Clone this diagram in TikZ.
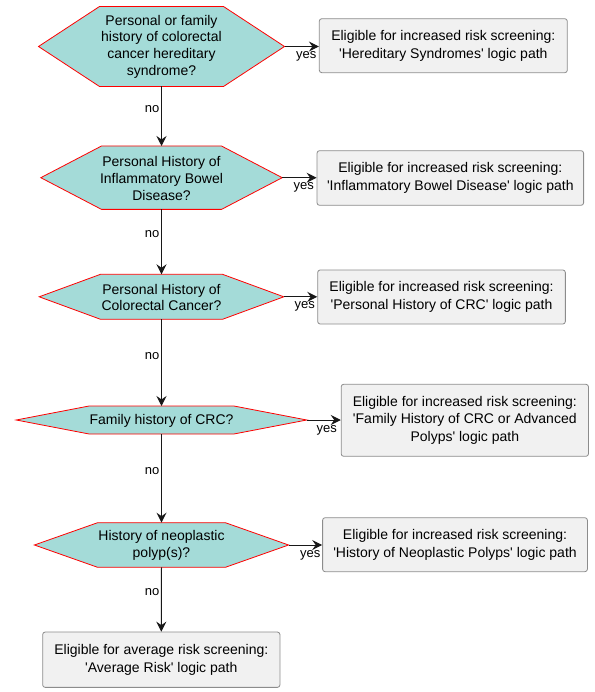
\documentclass[tikz,border=0pt]{standalone}
\usepackage{fontspec}
\setmainfont{Liberation Sans}[Ligatures=TeXOff]
\usetikzlibrary{arrows.meta}
\definecolor{hexfill}{RGB}{164,219,216}
\definecolor{boxfill}{RGB}{241,241,241}
\definecolor{boxline}{RGB}{140,140,140}
\definecolor{lineclr}{RGB}{24,24,24}
\newcommand\mkhex[6]{% name, cx, cy, W, w, h
  \path[hexpath] ({#2-#4},#3) -- ({#2-#5},{#3-#6}) -- ({#2+#5},{#3-#6}) -- ({#2+#4},#3)
    -- ({#2+#5},{#3+#6}) -- ({#2-#5},{#3+#6}) -- cycle;
  \coordinate (#1e) at ({#2+#4},#3);
  \coordinate (#1n) at (#2,{#3-#6});
  \coordinate (#1s) at (#2,{#3+#6});
}
\begin{document}
\begin{tikzpicture}[x=1pt,y=-1pt,
  hexpath/.style={fill=hexfill,draw=red,line width=0.8pt},
  hextext/.style={align=center,font=\fontsize{14}{16.9}\selectfont,inner sep=0pt},
  outbox/.style={draw=boxline,fill=boxfill,rounded corners=2.5pt,line width=0.8pt,
    align=center,font=\fontsize{14}{17.6}\selectfont,inner sep=0pt},
  conn/.style={draw=lineclr,line width=1pt,-{Stealth[length=10pt,width=10pt,inset=3.5pt]}},
  lbl/.style={font=\fontsize{13}{15}\selectfont,inner sep=0pt}
]
\useasboundingbox (0,0) rectangle (594,692);

% decision hexagons
\mkhex{h1}{161.5}{46.5}{123}{62}{40}
\mkhex{h2}{161.5}{177.7}{120.7}{60}{31.7}
\mkhex{h3}{161.5}{296.8}{122.3}{61}{22.5}
\mkhex{h4}{161.5}{420}{145.3}{72.4}{14}
\mkhex{h5}{161.5}{545}{127.1}{63.9}{22.3}

\node[hextext] (t1) at (161.5,46.8) {Personal or family\\history of colorectal\\cancer hereditary\\syndrome?};
\node[hextext] (t2) at (161.5,178.3) {Personal History of\\Inflammatory Bowel\\Disease?};
\node[hextext] (t3) at (161.5,297.5) {Personal History of\\Colorectal Cancer?};
\node[hextext] (t4) at (161.5,420.5) {Family history of CRC?};
\node[hextext] (t5) at (161.5,545.5) {History of neoplastic\\polyp(s)?};

% outcome boxes
\node[outbox,minimum width=248pt,minimum height=54pt] (b1) at (443.3,45.7)
  {Eligible for increased risk screening:\\'Hereditary Syndromes' logic path};
\node[outbox,minimum width=266.6pt,minimum height=54.6pt] (b2) at (450.3,178)
  {Eligible for increased risk screening:\\'Inflammatory Bowel Disease' logic path};
\node[outbox,minimum width=247.7pt,minimum height=54pt] (b3) at (441.5,297)
  {Eligible for increased risk screening:\\'Personal History of CRC' logic path};
\node[outbox,minimum width=247.3pt,minimum height=72pt] (b4) at (464.8,420.3)
  {Eligible for increased risk screening:\\'Family History of CRC or Advanced\\Polyps' logic path};
\node[outbox,minimum width=264.8pt,minimum height=54pt] (b5) at (455,544.7)
  {Eligible for increased risk screening:\\'History of Neoplastic Polyps' logic path};
\node[outbox,minimum width=237.3pt,minimum height=55.3pt] (b6) at (161.3,659.7)
  {Eligible for average risk screening:\\'Average Risk' logic path};

% yes connectors
\draw[conn] (h1e) -- (h1e -| b1.west);
\draw[conn] (h2e) -- (h2e -| b2.west);
\draw[conn] (h3e) -- (h3e -| b3.west);
\draw[conn] (h4e) -- (h4e -| b4.west);
\draw[conn] (h5e) -- (h5e -| b5.west);
\node[lbl,anchor=west] (y1) at (296,56) {yes};
\node[lbl,anchor=west] (y2) at (293.5,187.7) {yes};
\node[lbl,anchor=west] (y3) at (294.5,306.7) {yes};
\node[lbl,anchor=west] (y4) at (316.5,430.7) {yes};
\node[lbl,anchor=west] (y5) at (300,555) {yes};

% no connectors
\draw[conn] (h1s) -- (h2n);
\draw[conn] (h2s) -- (h3n);
\draw[conn] (h3s) -- (h4n);
\draw[conn] (h4s) -- (h5n);
\draw[conn] (h5s) -- (b6.north);
\node[lbl,anchor=east] (n1) at (159.5,109) {no};
\node[lbl,anchor=east] (n2) at (159.5,234.3) {no};
\node[lbl,anchor=east] (n3) at (159.5,355.7) {no};
\node[lbl,anchor=east] (n4) at (159.5,471) {no};
\node[lbl,anchor=east] (n5) at (159.5,592.3) {no};
\end{tikzpicture}
\end{document}
